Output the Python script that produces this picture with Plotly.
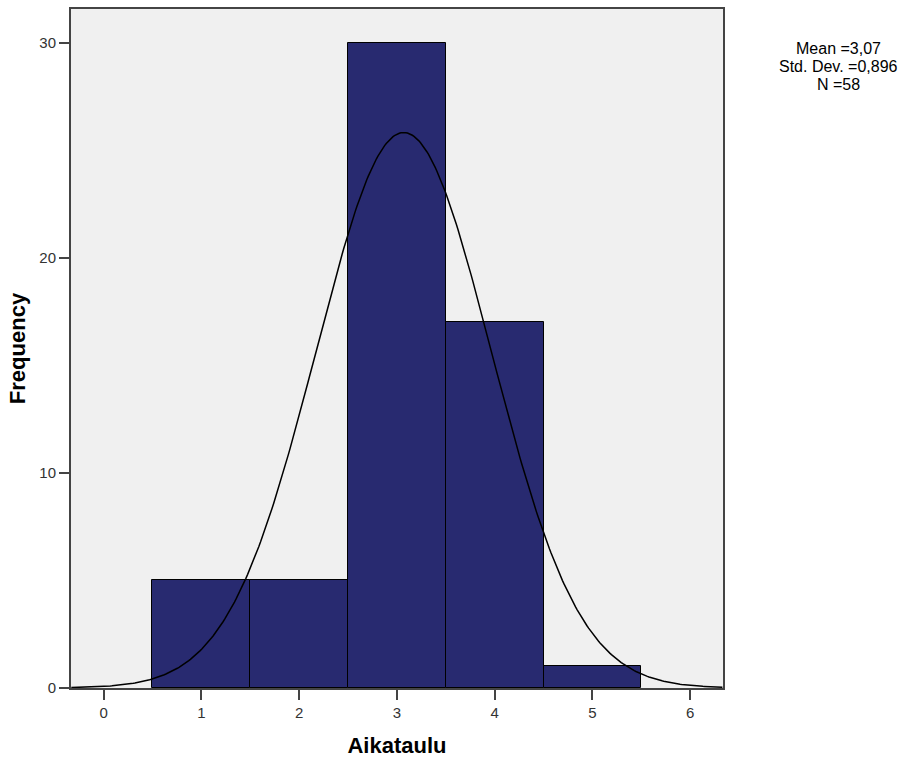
import numpy as np
import plotly.graph_objects as go

# Data
bin_centers = [1, 2, 3, 4, 5]
frequencies = [5, 5, 30, 17, 1]
x_ticks = [0, 1, 2, 3, 4, 5, 6]
y_ticks = [0, 10, 20, 30]
mean_val = 3.07
sd_val = 0.896
n_val = 58
bin_width = 1.0
stats_lines = ["Mean =3,07", "Std. Dev. =0,896", "N =58"]

xs = np.linspace(-0.33, 6.33, 400)
ys = n_val * bin_width / (sd_val * np.sqrt(2 * np.pi)) * np.exp(-0.5 * ((xs - mean_val) / sd_val) ** 2)

FONT = "Liberation Sans, Arial, sans-serif"

fig = go.Figure()
fig.add_trace(go.Bar(
    x=bin_centers, y=frequencies, width=[bin_width] * len(bin_centers),
    marker=dict(color="#282A70", line=dict(color="#000000", width=1)),
    showlegend=False, hoverinfo="x+y",
))
fig.add_trace(go.Scatter(
    x=xs, y=ys, mode="lines", line=dict(color="#000000", width=1.5),
    showlegend=False, hoverinfo="skip",
))

axis_common = dict(
    showline=True, linecolor="#444444", linewidth=2, mirror=True,
    ticks="outside", ticklen=10, tickwidth=2, tickcolor="#444444",
    showgrid=False, zeroline=False,
    tickfont=dict(family=FONT, size=15, color="#333333"),
)

# stats annotation lines (centers at 47, 65, 83 px from top; plot top 7, height 681)
annots = []
for i, line in enumerate(stats_lines):
    ypx = 47 + 18 * i
    annots.append(dict(
        xref="paper", yref="paper", x=(838 - 71) / 652, y=1 - (ypx - 7) / 681,
        xanchor="center", yanchor="middle", text=line, showarrow=False,
        font=dict(family=FONT, size=16, color="#000000"),
    ))

fig.update_layout(
    width=907, height=765,
    margin=dict(l=71, r=184, t=7, b=77),
    paper_bgcolor="#FFFFFF", plot_bgcolor="#F0F0F0",
    bargap=0,
    xaxis=dict(range=[-0.333, 6.336], tickvals=x_ticks,
               title=dict(text="<b>Aikataulu</b>", font=dict(family=FONT, size=22, color="#000000"), standoff=18),
               **axis_common),
    yaxis=dict(range=[0, 31.57], tickvals=y_ticks,
               title=dict(text="<b>Frequency</b>", font=dict(family=FONT, size=22, color="#000000"), standoff=8),
               **axis_common),
    annotations=annots,
)

fig.write_html("out.html", config={"displayModeBar": False},
               post_script="document.body.style.margin='0px';")
